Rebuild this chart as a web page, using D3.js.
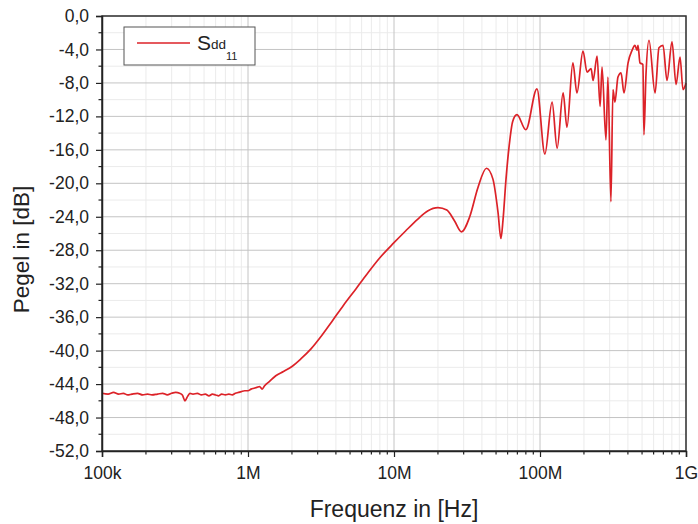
<!DOCTYPE html>
<html>
<head>
<meta charset="utf-8">
<script src="https://cdn.jsdelivr.net/npm/d3@7"></script>
<style>
  body { margin: 0; background: #fff; }
  text { font-family: "Liberation Sans", Arial, sans-serif; fill: #222; }
</style>
</head>
<body>
<div id="chart"></div>
<script>
// frequency in MHz
const freqMHz = [
  0.100, 0.110, 0.120, 0.130, 0.140, 0.150, 0.160, 0.175, 0.190, 0.205,
  0.220, 0.240, 0.260, 0.280, 0.300, 0.320, 0.340, 0.355, 0.370, 0.385,
  0.400, 0.420, 0.450, 0.480, 0.510, 0.540, 0.570, 0.600, 0.630, 0.660,
  0.700, 0.740, 0.780, 0.820, 0.860, 0.900, 0.950, 1.00, 1.05, 1.10,
  1.15, 1.20, 1.25, 1.30, 1.40, 1.55, 1.75, 2.0, 2.3, 2.7,
  3.2, 3.8, 4.5, 5.5, 6.5, 8.0, 10, 12, 14.5, 17,
  20, 23, 26, 29, 33, 37.6, 43, 47.6, 51.6, 54,
  55.8, 58.5, 61.5, 65, 69.5, 80, 95.3, 108, 121, 131,
  144, 153, 168, 179, 197, 210, 224, 231, 246, 258,
  266, 283, 292, 306, 316, 326, 342, 359, 376, 401,
  427, 447, 462, 469, 484, 507, 515, 532, 558, 614,
  653, 696, 741, 802, 855, 910, 954, 1000
];
// S_dd11 level in dB
const sdd11 = [
  -45.1, -45.2, -45.0, -45.2, -45.1, -45.3, -45.2, -45.1, -45.3, -45.2,
  -45.3, -45.2, -45.1, -45.3, -45.1, -45.0, -45.1, -45.3, -46.0, -45.5,
  -45.1, -45.2, -45.1, -45.3, -45.2, -45.4, -45.2, -45.3, -45.4, -45.2,
  -45.3, -45.2, -45.3, -45.1, -45.0, -44.9, -44.8, -44.8, -44.6, -44.5,
  -44.4, -44.3, -44.6, -44.2, -43.7, -43.0, -42.5, -41.9, -41.0, -39.8,
  -38.2, -36.4, -34.6, -32.6, -30.9, -28.9, -27.1, -25.7, -24.3, -23.3,
  -22.9, -23.2, -24.5, -25.8, -24.0, -20.5, -18.2, -19.5, -23.5, -26.6,
  -24.4, -19.5, -15.5, -12.6, -11.8, -13.6, -8.7, -16.5, -10.3, -15.8,
  -9.2, -13.3, -5.6, -9.2, -4.2, -6.7, -6.3, -7.7, -4.8, -10.8,
  -6.1, -14.8, -7.3, -22.2, -8.8, -10.3, -7.3, -6.8, -9.2, -5.6,
  -4.1, -3.5, -4.1, -3.5, -5.6, -5.8, -14.2, -7.0, -2.9, -9.2,
  -3.8, -3.5, -7.7, -3.1, -8.2, -4.9, -8.8, -8.0
];
const xTickValues = [1e5, 1e6, 1e7, 1e8, 1e9];
const xTickLabels = ["100k", "1M", "10M", "100M", "1G"];
const yTickValues = d3.range(0, -53, -4);

const width = 698, height = 524;
const margin = { top: 16, right: 12, bottom: 73, left: 102 };
const innerW = width - margin.left - margin.right;
const innerH = height - margin.top - margin.bottom;

const data = freqMHz.map((f, i) => ({ f: f * 1e6, v: sdd11[i] }));

const x = d3.scaleLog().domain([1e5, 1e9]).range([0, innerW]);
const y = d3.scaleLinear().domain([-52, 0]).range([innerH, 0]);

const svg = d3.select('#chart').append('svg')
  .attr('width', width).attr('height', height);

const g = svg.append('g').attr('transform', `translate(${margin.left},${margin.top})`);

// minor x values (2..9 per decade)
const xMinor = [];
for (let e = 5; e < 9; e++) for (let m = 2; m <= 9; m++) xMinor.push(m * Math.pow(10, e));
const yMinor = d3.range(-2, -52, -4);

// minor grid
g.append('g').selectAll('line').data(xMinor).join('line')
  .attr('x1', d => x(d)).attr('x2', d => x(d)).attr('y1', 0).attr('y2', innerH)
  .attr('stroke', '#ebebeb').attr('stroke-width', 1);
g.append('g').selectAll('line').data(yMinor).join('line')
  .attr('x1', 0).attr('x2', innerW).attr('y1', d => y(d)).attr('y2', d => y(d))
  .attr('stroke', '#ebebeb').attr('stroke-width', 1);

// major grid
g.append('g').selectAll('line').data(xTickValues).join('line')
  .attr('x1', d => x(d)).attr('x2', d => x(d)).attr('y1', 0).attr('y2', innerH)
  .attr('stroke', '#c4c4c4').attr('stroke-width', 1);
g.append('g').selectAll('line').data(yTickValues).join('line')
  .attr('x1', 0).attr('x2', innerW).attr('y1', d => y(d)).attr('y2', d => y(d))
  .attr('stroke', '#c4c4c4').attr('stroke-width', 1);

// curve
const line = d3.line()
  .x(d => x(d.f)).y(d => y(d.v))
  .curve(d3.curveMonotoneX);

g.append('path')
  .datum(data)
  .attr('d', line)
  .attr('fill', 'none')
  .attr('stroke', '#dc2228')
  .attr('stroke-width', 1.7)
  .attr('stroke-linejoin', 'round');

// frame
g.append('rect')
  .attr('x', 0).attr('y', 0).attr('width', innerW).attr('height', innerH)
  .attr('fill', 'none').attr('stroke', '#333').attr('stroke-width', 1.5);

// axes
const xAxis = d3.axisBottom(x)
  .tickValues(xTickValues)
  .tickFormat((d, i) => xTickLabels[i])
  .tickSize(6).tickPadding(10);
const xAx = g.append('g').attr('transform', `translate(0,${innerH})`).call(xAxis);
xAx.append('g').selectAll('line').data(xMinor).join('line')
  .attr('x1', d => x(d)).attr('x2', d => x(d)).attr('y1', 0).attr('y2', 3.5)
  .attr('stroke', '#222').attr('stroke-width', 1.2);

const yAxis = d3.axisLeft(y)
  .tickValues(yTickValues)
  .tickFormat(d => d3.format('.1f')(d).replace('.', ',').replace('−', '-'))
  .tickSize(6).tickPadding(7);
const yAx = g.append('g').call(yAxis);
yAx.append('g').selectAll('line').data(yMinor).join('line')
  .attr('x1', 0).attr('x2', -3.5).attr('y1', d => y(d)).attr('y2', d => y(d))
  .attr('stroke', '#222').attr('stroke-width', 1.2);

[xAx, yAx].forEach(a => {
  a.select('.domain').attr('stroke', '#222').attr('stroke-width', 1.5);
  a.selectAll('.tick line').attr('stroke', '#222').attr('stroke-width', 1.2);
  a.selectAll('.tick text').attr('font-size', 17.5).attr('fill', '#333');
});

// axis titles
svg.append('text')
  .attr('x', margin.left + innerW / 2).attr('y', 517)
  .attr('text-anchor', 'middle').attr('font-size', 23)
  .text('Frequenz in [Hz]');
svg.append('text')
  .attr('transform', `translate(29,${margin.top + innerH / 2 + 16}) rotate(-90)`)
  .attr('text-anchor', 'middle').attr('font-size', 22.5)
  .text('Pegel in [dB]');

// legend
const lg = svg.append('g').attr('transform', 'translate(124,27)');
lg.append('rect').attr('width', 131).attr('height', 38)
  .attr('fill', '#fff').attr('stroke', '#555').attr('stroke-width', 1);
lg.append('line').attr('x1', 13).attr('x2', 66).attr('y1', 16).attr('y2', 16)
  .attr('stroke', '#dc2228').attr('stroke-width', 1.7);
const lt = lg.append('text').attr('x', 73).attr('y', 23).attr('font-size', 21);
lt.append('tspan').text('S');
lt.append('tspan').attr('font-size', 13.5).attr('dy', -1).text('dd');
lt.append('tspan').attr('font-size', 11).attr('dy', 11).text('11');
</script>
</body>
</html>
